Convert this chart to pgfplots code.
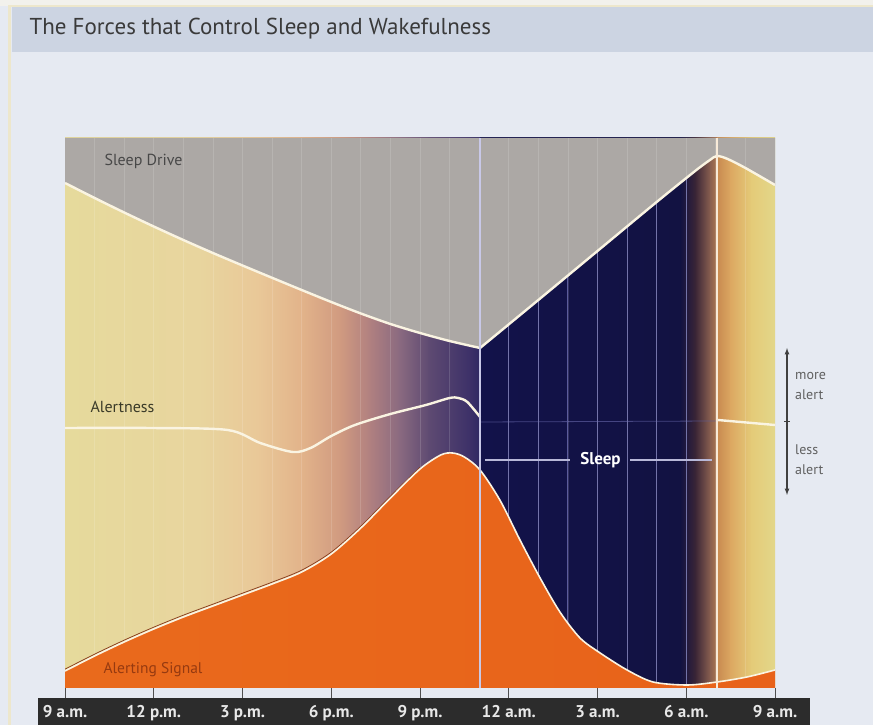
\documentclass[border=0pt]{standalone}
\usepackage{pgfplots}
\pgfplotsset{compat=1.18}
\usepackage{fontspec}
\setmainfont{PT Sans}
\definecolor{bgc}{HTML}{E6EAF2}
\definecolor{topc}{HTML}{F2F1EC}
\definecolor{titlebar}{HTML}{CCD4E2}
\definecolor{titlec}{HTML}{3A3A3A}
\definecolor{barc}{HTML}{2C2C2C}
\definecolor{beigeline}{HTML}{EDE7CC}
\definecolor{bg0}{HTML}{E6DA9C}
\definecolor{bg1}{HTML}{E8D59E}
\definecolor{bg2}{HTML}{E9C898}
\definecolor{bg3}{HTML}{E2B38A}
\definecolor{bg4}{HTML}{D09A80}
\definecolor{bg5}{HTML}{B08080}
\definecolor{bg6}{HTML}{8A6A80}
\definecolor{bg7}{HTML}{5E4A72}
\definecolor{bg8}{HTML}{3C3068}
\definecolor{bg9}{HTML}{2E2862}
\definecolor{nv0}{HTML}{12124A}
\definecolor{nv1}{HTML}{121242}
\definecolor{nv2}{HTML}{3A2536}
\definecolor{nv3}{HTML}{8A6050}
\definecolor{nv4}{HTML}{B07850}
\definecolor{yl0}{HTML}{C88A50}
\definecolor{yl1}{HTML}{DCA862}
\definecolor{yl2}{HTML}{E4CB78}
\definecolor{yl3}{HTML}{E3D78A}
\definecolor{grayc}{HTML}{ACA8A5}
\definecolor{or1}{HTML}{E96A1C}
\definecolor{or2}{HTML}{D9540E}
\definecolor{or3}{HTML}{E8621A}
\definecolor{cream}{HTML}{FAF4E2}
\definecolor{lav}{HTML}{5C5C9C}
\definecolor{sleepln}{HTML}{B8B8D8}
\definecolor{tickc}{HTML}{505050}
\definecolor{brownln}{HTML}{8A4020}
\definecolor{vl1}{HTML}{C8C8E8}
\definecolor{vl2}{HTML}{F8EAD8}
\definecolor{sdtext}{HTML}{484848}
\definecolor{altext}{HTML}{3A3A28}
\definecolor{sigtext}{HTML}{963A10}
\definecolor{arrc}{HTML}{404040}
\definecolor{sidetext}{HTML}{606060}
\definecolor{ticktext}{HTML}{E8E8E8}
\newcommand{\seg}[4]{\addplot[draw=none, left color=#3, right color=#4, forget plot] coordinates {(#1,0)(#2,0)(#2,550)(#1,550)} -- cycle;}
\begin{document}
\begin{tikzpicture}[x=1pt,y=1pt]
\fill[bgc] (0,0) rectangle (873,725);
\fill[topc] (0,719) rectangle (873,725);
\fill[titlebar] (12,673) rectangle (873,719);
\fill[beigeline] (8,0) rectangle (11,720);
\fill[beigeline] (8,718) rectangle (873,720);
\node[anchor=west, font=\fontsize{23}{27}\selectfont, text=titlec] at (26,696) {The Forces that Control Sleep and Wakefulness};
\fill[barc] (38,0) rectangle (810,27);
\begin{axis}[at={(65pt,37pt)}, anchor=south west, width=710pt, height=550pt, scale only axis,
  xmin=0, xmax=24, ymin=0, ymax=550,
  axis line style={draw=none}, ytick=\empty,
  xtick={0,3,...,24},
  xticklabels={9 a.m.,12 p.m.,3 p.m.,6 p.m.,9 p.m.,12 a.m.,3 a.m.,6 a.m.,9 a.m.},
  xtick pos=bottom, tick align=outside, major tick length=10pt,
  tick style={draw=tickc, line width=0.8pt},
  xticklabel style={text=ticktext, font=\bfseries\fontsize{17}{19}\selectfont, anchor=base, yshift=-20pt},
  clip=true]
% background gradient
\seg{0}{4.52}{bg0}{bg1}
\seg{4.5}{6.52}{bg1}{bg2}
\seg{6.5}{8.02}{bg2}{bg3}
\seg{8.0}{9.32}{bg3}{bg4}
\seg{9.3}{10.32}{bg4}{bg5}
\seg{10.3}{11.32}{bg5}{bg6}
\seg{11.3}{12.32}{bg6}{bg7}
\seg{12.3}{13.72}{bg7}{bg8}
\seg{13.7}{14.05}{bg8}{bg9}
\seg{14.03}{20.82}{nv0}{nv1}
\seg{20.8}{21.32}{nv1}{nv2}
\seg{21.3}{21.82}{nv2}{nv3}
\seg{21.8}{22.06}{nv3}{nv4}
\seg{22.04}{22.52}{yl0}{yl1}
\seg{22.5}{23.22}{yl1}{yl2}
\seg{23.2}{24}{yl2}{yl3}
% sleep-region grid
\foreach \h in {15,16,17,18,19,20,21} {
  \edef\tmp{\noexpand\addplot[lav, line width=0.9pt, forget plot] coordinates {(\h,0)(\h,550)};}\tmp
}
\addplot[lav, opacity=0.7, line width=0.8pt] coordinates {(14.03,266)(22.04,267)};
% sleep drive area
\addplot[smooth, draw=none, fill=grayc] coordinates {(0,505)(1,490)(2,475.5)(3,461.5)(4,448)(5,435)(6,422.5)(7,410.2)(8,398)(9,386)(10,374.5)(11,364)(12,355)(13,347)(14.03,340)} -- (14.03,550) -- (0,550) -- cycle;
\addplot[smooth, draw=none, fill=grayc] coordinates {(14.03,340)(16,388)(18,437)(20,486)(21.3,517)(21.8,528)(22.04,532)(22.4,529)(23,520)(24,503)} -- (24,550) -- (14.03,550) -- cycle;
% faint hourly lines
\foreach \h in {1,2,...,23} {
  \edef\tmp{\noexpand\addplot[white, opacity=0.14, line width=0.8pt, forget plot] coordinates {(\h,0)(\h,550)};}\tmp
}
% sleep drive line
\addplot[smooth, cream, line width=2.4pt] coordinates {(0,505)(1,490)(2,475.5)(3,461.5)(4,448)(5,435)(6,422.5)(7,410.2)(8,398)(9,386)(10,374.5)(11,364)(12,355)(13,347)(14.03,340)};
\addplot[smooth, cream, line width=2.4pt] coordinates {(14.03,340)(16,388)(18,437)(20,486)(21.3,517)(21.8,528)(22.04,532)(22.4,529)(23,520)(24,503)};
% alerting signal area
\addplot[smooth, draw=none, left color=or1, middle color=or2, right color=or3] coordinates {(0,17)(1,32)(2,46)(3,59)(4,71)(5,82)(6,93)(7,104)(8,116)(9,134)(10,160)(11,190)(12,219)(12.7,233)(13.1,235)(13.5,231)(14.03,218)(14.7,188)(15.38,148)(16.06,110)(16.73,76)(17.41,50)(18.09,35)(19.0,18)(19.88,6)(21.03,3)(22.04,6)(23.05,11)(24,18)} \closedcycle;
\addplot[smooth, brownln, line width=0.8pt, yshift=1.8pt] coordinates {(0,17)(1,32)(2,46)(3,59)(4,71)(5,82)(6,93)(7,104)(8,116)(9,134)(10,160)(11,190)(12,219)};
\addplot[smooth, cream, line width=1.6pt] coordinates {(0,17)(1,32)(2,46)(3,59)(4,71)(5,82)(6,93)(7,104)(8,116)(9,134)(10,160)(11,190)(12,219)(12.7,233)(13.1,235)(13.5,231)(14.03,218)(14.7,188)(15.38,148)(16.06,110)(16.73,76)(17.41,50)(18.09,35)(19.0,18)(19.88,6)(21.03,3)(22.04,6)(23.05,11)(24,18)};
% alertness
\addplot[smooth, cream, line width=2.4pt] coordinates {(0,260)(2.9,260)(5.5,258)(6.6,245)(7.7,236)(8.3,240)(9.0,252)(9.8,263)(11.0,274)(12.2,283)(13.0,290)(13.3,290)(13.6,286)(14.03,271)};
\addplot[cream, line width=2.4pt] coordinates {(22.07,268)(24,263)};
% main vertical lines
\addplot[vl1, line width=1.3pt] coordinates {(14.03,0)(14.03,550)};
\addplot[vl2, line width=1.3pt] coordinates {(22.04,0)(22.04,550)};
% sleep marker
\addplot[sleepln, line width=2pt] coordinates {(14.2,228)(17.07,228)};
\addplot[sleepln, line width=2pt] coordinates {(19.1,228)(21.87,228)};
\node[text=white, font=\bfseries\fontsize{17}{19}\selectfont] at (axis cs:18.1,228) {Sleep};
\end{axis}
% labels
\node[anchor=west, text=sdtext, font=\fontsize{16}{18}\selectfont] at (101,564) {Sleep Drive};
\node[anchor=west, text=altext, font=\fontsize{16}{18}\selectfont] at (87,318) {Alertness};
\node[anchor=west, text=sigtext, font=\fontsize{15.5}{18}\selectfont] at (100,55) {Alerting Signal};
% right arrow
\draw[arrc, line width=1.2pt, <->, >=latex] (787,230) -- (787,377);
\draw[arrc, line width=1pt] (784,303) -- (790,303);
\node[anchor=base west, inner sep=0pt, text=sidetext, font=\fontsize{14}{16}\selectfont] at (795,345) {more};
\node[anchor=base west, inner sep=0pt, text=sidetext, font=\fontsize{14}{16}\selectfont] at (795,325) {alert};
\node[anchor=base west, inner sep=0pt, text=sidetext, font=\fontsize{14}{16}\selectfont] at (795,270) {less};
\node[anchor=base west, inner sep=0pt, text=sidetext, font=\fontsize{14}{16}\selectfont] at (795,250) {alert};
\end{tikzpicture}
\end{document}
